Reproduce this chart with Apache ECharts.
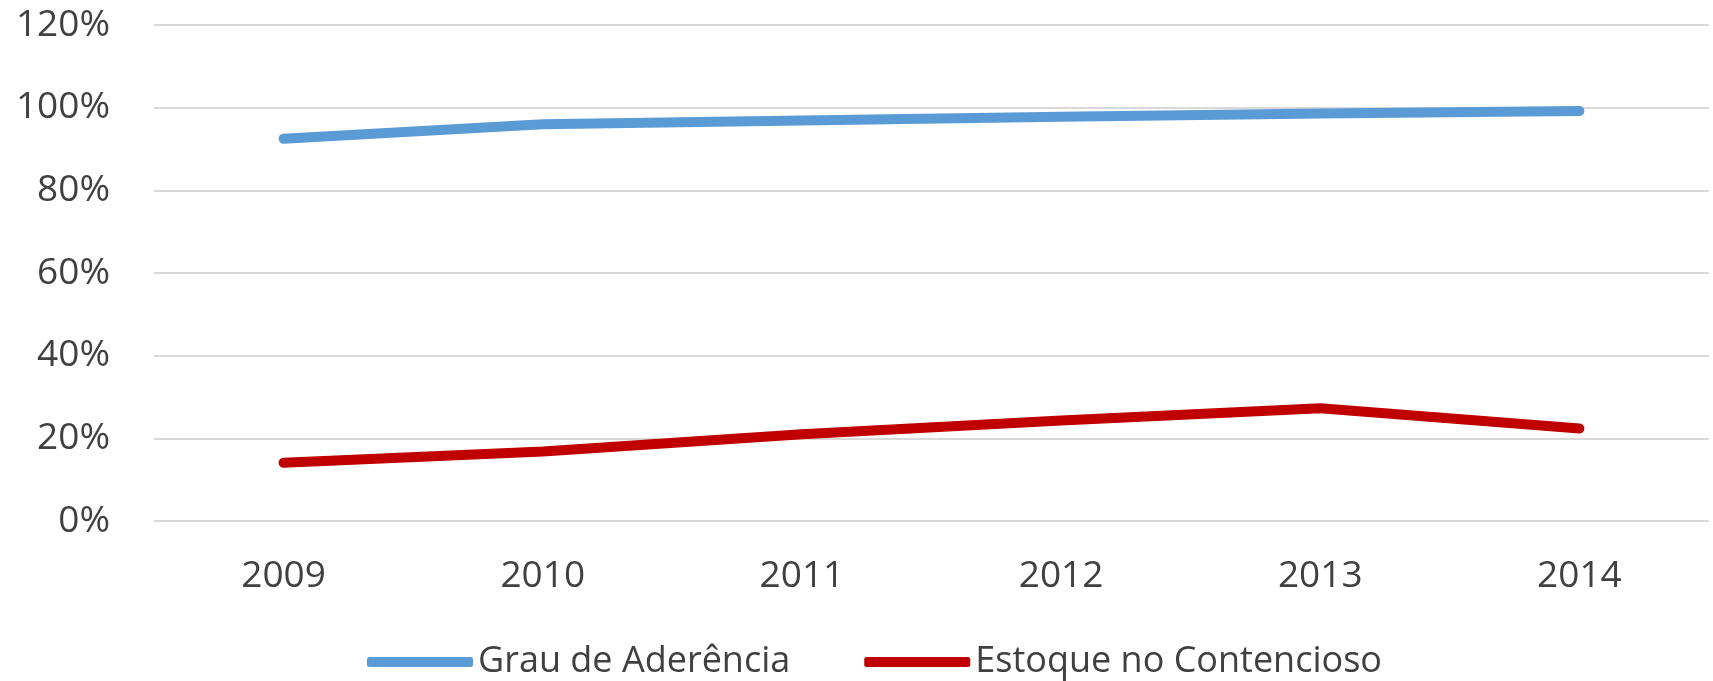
<!DOCTYPE html>
<html>
<head>
<meta charset="utf-8">
<script src="https://cdn.jsdelivr.net/npm/echarts@6/dist/echarts.min.js"></script>
<style>
  html, body { margin: 0; padding: 0; background: #fff; }
  #chart { width: 1713px; height: 681px; }
</style>
</head>
<body>
<div id="chart"></div>
<script>
// anos
const years = ['2009', '2010', '2011', '2012', '2013', '2014']
// valores em %
const grauAderencia = [92.5, 96.0, 96.9, 97.8, 98.6, 99.2]
const estoqueContencioso = [14.1, 16.8, 21.0, 24.3, 27.3, 22.4]
const yTicks = [0, 20, 40, 60, 80, 100, 120]

const labelFont = { fontFamily: 'Open Sans', fontSize: 37, color: '#404040' }

let chart = echarts.init(document.getElementById('chart'))
let option = {
  animation: false,
  grid: {
    left: 154,
    right: 4,
    top: 25,
    bottom: 160
  },
  legend: {
    left: 362,
    top: 639,
    itemWidth: 106,
    itemHeight: 10,
    itemGap: 74,
    icon: 'roundRect',
    textStyle: { fontFamily: 'Open Sans', fontSize: 36, color: '#404040' },
    data: ['Grau de Aderência', 'Estoque no Contencioso']
  },
  xAxis: {
    type: 'category',
    data: years,
    boundaryGap: true,
    axisLine: { show: false },
    axisTick: { show: false },
    axisLabel: Object.assign({ margin: 37 }, labelFont)
  },
  yAxis: {
    type: 'value',
    min: yTicks[0],
    max: yTicks[yTicks.length - 1],
    interval: 20,
    axisLine: { show: false },
    axisTick: { show: false },
    splitLine: { lineStyle: { color: '#d9d9d9', width: 2 } },
    axisLabel: Object.assign({ margin: 44, formatter: '{value}%' }, labelFont)
  },
  series: [
    {
      name: 'Grau de Aderência',
      type: 'line',
      data: grauAderencia,
      symbol: 'none',
      color: '#5b9bd5',
      lineStyle: { width: 10, cap: 'round', join: 'round' }
    },
    {
      name: 'Estoque no Contencioso',
      type: 'line',
      data: estoqueContencioso,
      symbol: 'none',
      color: '#c00000',
      lineStyle: { width: 10, cap: 'round', join: 'round' }
    }
  ]
}
chart.setOption(option)
</script>
</body>
</html>
